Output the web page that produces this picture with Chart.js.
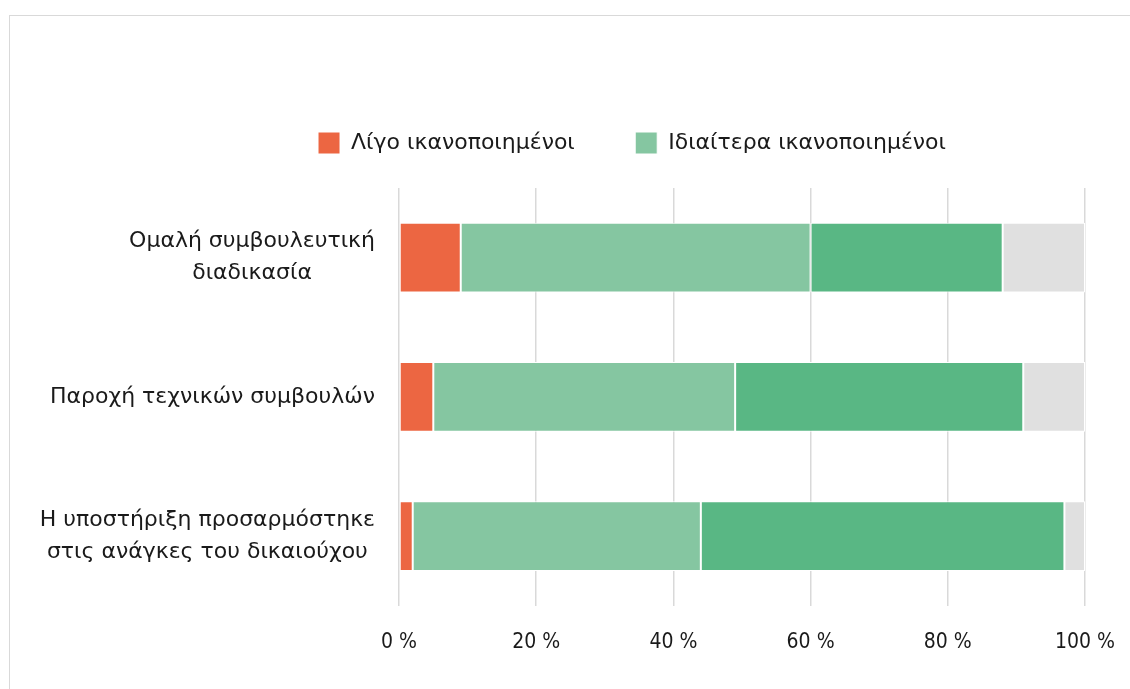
<!DOCTYPE html>
<html>
<head>
<meta charset="utf-8">
<script src="https://cdn.jsdelivr.net/npm/chart.js@4"></script>
<style>
  html, body { margin: 0; padding: 0; background: #fff; }
  #wrap { position: relative; width: 1130px; height: 689px; overflow: hidden; }
  #frame { position: absolute; left: 9px; top: 15px; width: 1200px; height: 800px; border: 1px solid #d9d9d9; }
  #statsChart { position: absolute; left: 0; top: 0; }
</style>
</head>
<body>
<div id="wrap">
  <div id="frame"></div>
  <canvas id="statsChart" width="1130" height="689"></canvas>
</div>
<script>
const categories = [
    ['Ομαλή συμβουλευτική', 'διαδικασία'],
    ['Παροχή τεχνικών συμβουλών'],
    ['Η υποστήριξη προσαρμόστηκε', 'στις ανάγκες του δικαιούχου']
];
const seriesNames = ['Λίγο ικανοποιημένοι', 'Ιδιαίτερα ικανοποιημένοι', 'Πολύ ικανοποιημένοι', 'Δεν απάντησαν'];
const littleSatisfied = [9, 5, 2];
const quiteSatisfied = [51, 44, 42];
const verySatisfied = [28, 42, 53];
const noAnswer = [12, 9, 3];
const tickValues = [0, 20, 40, 60, 80, 100];

const colors = ['#EC6642', '#85C6A1', '#59B784', '#E0E0E0'];
const seriesData = [littleSatisfied, quiteSatisfied, verySatisfied, noAnswer];

// category labels: block right-aligned, lines centered inside the block
const categoryLabels = {
    id: 'categoryLabels',
    afterInit(chart) {
        // leave some room between legend and bars
        const fit = chart.legend.fit;
        chart.legend.fit = function () {
            fit.call(this);
            this.height += 24;
        };
    },
    afterDraw(chart) {
        const ctx = chart.ctx;
        const y = chart.scales.y;
        ctx.save();
        ctx.font = '22px "DejaVu Sans"';
        ctx.fillStyle = '#1a1a1a';
        ctx.textAlign = 'center';
        ctx.textBaseline = 'middle';
        const right = chart.chartArea.left - 24;
        const lineH = 32;
        categories.forEach((lines, i) => {
            const cy = y.getPixelForValue(i);
            const w = Math.max(...lines.map(l => ctx.measureText(l).width));
            const cx = right - w / 2;
            const top = cy - (lines.length - 1) * lineH / 2;
            lines.forEach((l, j) => ctx.fillText(l, cx, top + j * lineH));
        });
        ctx.restore();
    }
};

const ctx = document.getElementById('statsChart').getContext('2d');
const chart = new Chart(ctx, {
    type: 'bar',
    data: {
        labels: categories.map(c => c.join(' ')),
        datasets: seriesNames.map((name, i) => ({
            label: name,
            data: seriesData[i],
            backgroundColor: colors[i],
            borderColor: '#ffffff',
            borderWidth: 1,
            borderSkipped: false,
            barPercentage: 0.5,
            categoryPercentage: 1
        }))
    },
    options: {
        indexAxis: 'y',
        responsive: false,
        animation: false,
        layout: {
            padding: { left: 179, right: 45, top: 98, bottom: 10 }
        },
        plugins: {
            legend: {
                position: 'top',
                labels: {
                    filter: (item) => item.datasetIndex < 2,
                    generateLabels: (chart) => {
                        const items = Chart.defaults.plugins.legend.labels.generateLabels(chart);
                        items[0].text += '\u2003\u2009';
                        return items;
                    },
                    boxWidth: 22,
                    boxHeight: 22,
                    padding: 34,
                    color: '#1a1a1a',
                    font: { family: '"DejaVu Sans"', size: 22 }
                }
            },
            tooltip: { enabled: false }
        },
        scales: {
            x: {
                stacked: true,
                min: 0,
                max: 100,
                afterBuildTicks: (scale) => {
                    scale.ticks = tickValues.map(v => ({ value: v }));
                },
                afterFit: (scale) => {
                    scale.paddingLeft = 0;
                    scale.paddingRight = 0;
                },
                grid: { color: '#d9d9d9', lineWidth: 1.5, drawTicks: false },
                border: { display: false },
                ticks: {
                    padding: 24,
                    color: '#1a1a1a',
                    font: { family: '"Liberation Sans Narrow", "DejaVu Sans Condensed", sans-serif', size: 21 },
                    callback: (v) => v + ' %'
                }
            },
            y: {
                stacked: true,
                grid: { display: false },
                border: { display: false },
                ticks: { display: false },
                afterFit: (scale) => { scale.width = 220; }
            }
        }
    },
    plugins: [categoryLabels]
});
</script>
</body>
</html>
